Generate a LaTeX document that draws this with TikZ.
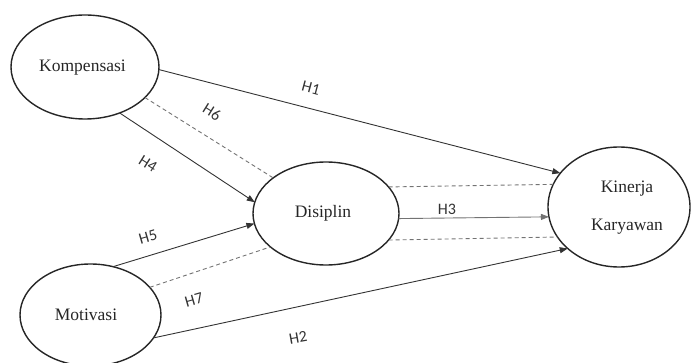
\documentclass[tikz,border=0pt]{standalone}
\usepackage{fontspec}
\setmainfont{Liberation Serif}
\newfontfamily\lblfont{Carlito}
\usetikzlibrary{shapes.geometric,arrows.meta}
\begin{document}
\begin{tikzpicture}[x=1pt,y=-1pt,
  var/.style={ellipse,draw=black!85,line width=1.4pt,inner sep=0pt,outer sep=0pt,
    font=\fontsize{17.5}{38}\selectfont,text=black!85},
  path/.style={draw=black!80,line width=0.9pt,-{Triangle[length=8pt,width=6pt]}},
  dpath/.style={draw=black!55,line width=0.9pt,dash pattern=on 4pt off 3pt},
  hlab/.style={font=\lblfont\fontsize{16}{16}\selectfont,text=black!80,inner sep=0pt}]
\useasboundingbox (0,0) rectangle (692,363);
\node[var,minimum width=148pt,minimum height=104pt] (komp) at (85,67) {};
\node[font=\fontsize{17.5}{20}\selectfont,text=black!85] (kompt) at (82.5,68) {Kompensasi};
\node[var,minimum width=146pt,minimum height=103pt] (dis) at (326,213.5) {};
\node[font=\fontsize{17.5}{20}\selectfont,text=black!85] (dist) at (323,213) {Disiplin};
\node[var,minimum width=142pt,minimum height=120pt] (kin) at (619,207) {};
\node[font=\fontsize{17.5}{38}\selectfont,text=black!85,align=center] (kint) at (627,208) {Kinerja\\Karyawan};
\node[var,minimum width=141pt,minimum height=102pt] (mot) at (90.5,315) {};
\node[font=\fontsize{17.5}{20}\selectfont,text=black!85] (mott) at (86,315) {Motivasi};
% solid paths
\draw[path] (komp.-2) -- (kin.150);
\draw[path] (komp.-53) -- (dis.171);
\draw[path] (mot.65) -- (dis.188);
\draw[path] (mot.-20) -- (kin.219);
\draw[path,draw=black!55] (dis.-4) -- (kin.188);
% dashed paths
\draw[dpath] (komp.-27) -- (dis.146);
\draw[dpath] (mot.25) -- (dis.211);
\draw[dpath] (dis.23) -- (kin.161);
\draw[dpath] (dis.-23) -- (kin.206);
% labels
\node[hlab,rotate=-15] (h1) at (311,88) {H1};
\node[hlab,rotate=-32] (h6) at (212,112) {H6};
\node[hlab,rotate=-32] (h4) at (148,164) {H4};
\node[hlab,rotate=16] (h5) at (148,237) {H5};
\node[hlab,rotate=16] (h7) at (194,300) {H7};
\node[hlab,rotate=10] (h2) at (298,338) {H2};
\node[hlab] (h3) at (447,209) {H3};
\end{tikzpicture}
\end{document}
